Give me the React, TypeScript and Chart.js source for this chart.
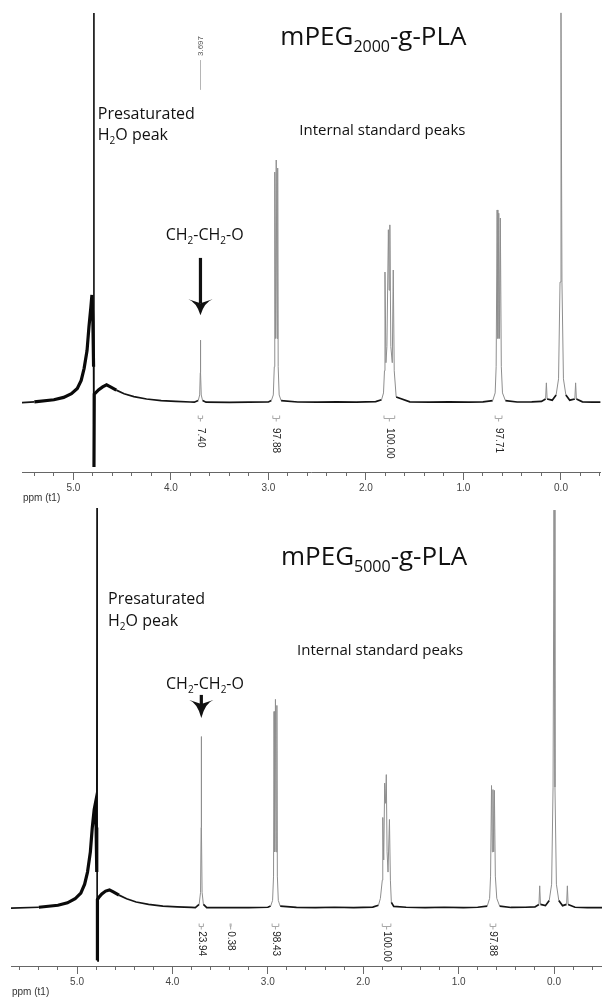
import { useEffect, useRef } from 'react';
import { Chart, registerables } from 'chart.js';

Chart.register(...registerables);

// ---------------- data: top spectrum (mPEG2000-g-PLA) ----------------
const topPpm = [
  5.53, 5.40, 5.20, 5.10, 5.02, 4.96, 4.92, 4.89, 4.86, 4.84, 4.82, 4.81, 4.80, 4.793, 4.790, 4.789, 4.786,
  4.77, 4.74, 4.70, 4.66, 4.62, 4.56, 4.48, 4.38, 4.25, 4.10, 3.95, 3.80,
  3.76, 3.72, 3.705, 3.699, 3.697, 3.695, 3.689, 3.675, 3.64,
  3.40, 3.20, 3.00,
  2.97, 2.95, 2.94, 2.935, 2.928, 2.92, 2.912, 2.905, 2.90, 2.89, 2.87,
  2.70, 2.50, 2.30, 2.10, 1.90,
  1.84, 1.82, 1.81, 1.805, 1.795, 1.785, 1.77, 1.763, 1.755, 1.745, 1.73, 1.72, 1.71, 1.69,
  1.55, 1.35, 1.15, 0.95, 0.80,
  0.70, 0.675, 0.665, 0.655, 0.647, 0.638, 0.63, 0.622, 0.612, 0.60, 0.57,
  0.45, 0.30, 0.20,
  0.158, 0.15, 0.142,
  0.09, 0.05, 0.025, 0.01, 0.0, -0.01, -0.025, -0.05, -0.09,
  -0.142, -0.15, -0.158,
  -0.22, -0.32, -0.41,
];
const topIntensity = [
  0.1, 0.3, 0.8, 1.4, 2.3, 3.6, 5.6, 8.6, 13, 19, 24, 26.8, 20, 9, 96.8, -15.9, 2.2,
  2.6, 3.3, 4.0, 4.5, 4.0, 3.2, 2.3, 1.6, 1.0, 0.6, 0.4, 0.25,
  0.2, 0.6, 2.0, 7.5, 15.6, 7.5, 2.0, 0.6, 0.2,
  0.15, 0.2, 0.25,
  0.6, 2.0, 9, 57.3, 16, 60.3, 16, 58.3, 9, 2.0, 0.6,
  0.25, 0.2, 0.3, 0.2, 0.35,
  0.8, 2.5, 8, 32.5, 10, 14, 43, 28, 44.2, 14, 10, 33, 8, 1.5,
  0.3, 0.2, 0.3, 0.2, 0.3,
  0.6, 2.5, 9, 47.9, 16, 47.1, 16, 45.9, 9, 2.5, 0.6,
  0.25, 0.3, 0.4,
  1.0, 5.0, 1.0,
  0.7, 2.0, 6, 30, 96.8, 30, 6, 2.0, 0.7,
  1.0, 5.0, 1.0,
  0.3, 0.2, 0.2,
];

// ---------------- data: bottom spectrum (mPEG5000-g-PLA) ----------------
const bottomPpm = [
  5.70, 5.40, 5.20, 5.10, 5.02, 4.96, 4.92, 4.89, 4.86, 4.84, 4.82, 4.81, 4.80, 4.793, 4.790, 4.789, 4.786,
  4.77, 4.74, 4.70, 4.66, 4.62, 4.56, 4.48, 4.38, 4.25, 4.10, 3.95, 3.80,
  3.76, 3.72, 3.705, 3.699, 3.697, 3.695, 3.689, 3.675, 3.64,
  3.40, 3.20, 3.00,
  2.97, 2.95, 2.94, 2.935, 2.928, 2.92, 2.912, 2.905, 2.90, 2.89, 2.87,
  2.70, 2.50, 2.30, 2.10, 1.90,
  1.84, 1.82, 1.80, 1.795, 1.785, 1.775, 1.765, 1.758, 1.75, 1.74, 1.725, 1.715, 1.705, 1.68,
  1.55, 1.35, 1.15, 0.95, 0.80,
  0.70, 0.675, 0.665, 0.655, 0.647, 0.64, 0.632, 0.625, 0.615, 0.60, 0.57,
  0.45, 0.30, 0.20,
  0.158, 0.15, 0.142,
  0.09, 0.05, 0.025, 0.01, 0.0, -0.01, -0.025, -0.05, -0.09,
  -0.132, -0.14, -0.148,
  -0.22, -0.35, -0.51,
];
const bottomIntensity = [
  0.1, 0.3, 0.8, 1.4, 2.4, 3.8, 6, 9, 14, 20, 24.5, 25.7, 20, 9, 99.0, -12.8, 2.2,
  2.8, 3.6, 4.3, 4.6, 4.1, 3.3, 2.4, 1.6, 1.0, 0.6, 0.4, 0.25,
  0.2, 1.0, 4, 20, 42.5, 20, 4, 1.0, 0.2,
  0.2, 0.2, 0.3,
  0.6, 2, 8, 48.7, 14, 51.7, 14, 50.2, 8, 2, 0.6,
  0.25, 0.2, 0.3, 0.2, 0.35,
  0.8, 2.5, 7, 22.5, 12, 31, 26, 33.1, 14, 9, 22, 7, 1.5, 0.5,
  0.3, 0.2, 0.3, 0.2, 0.3,
  0.6, 2.5, 8, 30.4, 14, 29.4, 14, 29.2, 8, 2.5, 0.6,
  0.25, 0.3, 0.4,
  1.0, 5.6, 1.0,
  0.7, 2.0, 6, 30, 98.5, 30, 6, 2.0, 0.7,
  1.0, 5.6, 1.0,
  0.3, 0.2, 0.2,
];

// ---------------- integrals ----------------
const topIntegralLabels = ['7.40', '97.88', '100.00', '97.71'];
const topIntegralFrom = [3.72, 2.955, 1.815, 0.675];
const topIntegralTo = [3.675, 2.885, 1.705, 0.605];

const bottomIntegralLabels = ['23.94', '0.38', '98.43', '100.00', '97.88'];
const bottomIntegralFrom = [3.72, 3.395, 2.955, 1.80, 0.67];
const bottomIntegralTo = [3.675, 3.385, 2.885, 1.71, 0.61];

// ---------------- tick labels ----------------
const majorTickValues = [5, 4, 3, 2, 1, 0];
const axisTitle = 'ppm (t1)';

// ---------------- annotations (text anchored in ppm / intensity units) ----------------
const topNotes = [
  { text: 'mPEG_{2000}-g-PLA', ppm: 2.878, level: 88.8, size: 26 },
  { text: 'Presaturated', ppm: 4.75, level: 70.5, size: 16 },
  { text: 'H_{2}O peak', ppm: 4.75, level: 65.3, size: 16 },
  { text: 'Internal standard peaks', ppm: 2.684, level: 66.5, size: 15 },
  { text: 'CH_{2}-CH_{2}-O', ppm: 4.054, level: 40.4, size: 16 },
];
const bottomNotes = [
  { text: 'mPEG_{5000}-g-PLA', ppm: 2.862, level: 84.9, size: 26 },
  { text: 'Presaturated', ppm: 4.675, level: 75.3, size: 16 },
  { text: 'H_{2}O peak', ppm: 4.675, level: 69.8, size: 16 },
  { text: 'Internal standard peaks', ppm: 2.694, level: 62.7, size: 15 },
  { text: 'CH_{2}-CH_{2}-O', ppm: 4.067, level: 54.3, size: 16 },
];
const topArrow = { ppm: 3.697, from: 36, headBase: 25, tip: 21.8 };
const bottomArrow = { ppm: 3.697, from: 52.8, headBase: 50.8, tip: 47.1 };
const topPeakLabel = { text: '3.697', ppm: 3.697, lineFrom: 77.7, lineTo: 85.1, textStart: 86.1 };

const NOTE_FONT = '"Open Sans", "Noto Sans", sans-serif';
const AXIS_FONT = '"Liberation Sans", Arial, sans-serif';

type Panel = {
  ppm: number[];
  intensity: number[];
  xMin: number;
  xMax: number;
  yMin: number;
  yMax: number;
  padLeft: number;
  notes: { text: string; ppm: number; level: number; size: number }[];
  arrow: { ppm: number; from: number; headBase: number; tip: number };
  integralLabels: string[];
  integralFrom: number[];
  integralTo: number[];
  bracketLevel: number;
  integralTextLevel: number;
  peakLabel?: { text: string; ppm: number; lineFrom: number; lineTo: number; textStart: number };
};

const topPanel: Panel = {
  ppm: topPpm,
  intensity: topIntensity,
  xMin: -0.404,
  xMax: 5.527,
  yMin: -17.12,
  yMax: 100,
  padLeft: 22,
  notes: topNotes,
  arrow: topArrow,
  integralLabels: topIntegralLabels,
  integralFrom: topIntegralFrom,
  integralTo: topIntegralTo,
  bracketLevel: -3.7,
  integralTextLevel: -6.2,
  peakLabel: topPeakLabel,
};

const bottomPanel: Panel = {
  ppm: bottomPpm,
  intensity: bottomIntensity,
  xMin: -0.503,
  xMax: 5.692,
  yMin: -14.22,
  yMax: 100,
  padLeft: 11,
  notes: bottomNotes,
  arrow: bottomArrow,
  integralLabels: bottomIntegralLabels,
  integralFrom: bottomIntegralFrom,
  integralTo: bottomIntegralTo,
  bracketLevel: -4.4,
  integralTextLevel: -5.6,
};

function isMajor(v: number) {
  return majorTickValues.some((m) => Math.abs(m - v) < 1e-6);
}

function drawRich(ctx: CanvasRenderingContext2D, text: string, x: number, y: number, size: number) {
  const parts = text.split(/(_\{[^}]*\})/).filter(Boolean);
  const subSize = Math.round(size * 0.62);
  let cx = x;
  for (const p of parts) {
    const isSub = p.startsWith('_{');
    const t = isSub ? p.slice(2, -1) : p;
    ctx.font = `${isSub ? subSize : size}px ${NOTE_FONT}`;
    ctx.fillText(t, cx, isSub ? y + size * 0.26 : y);
    cx += ctx.measureText(t).width;
  }
}

function makePlugin(panel: Panel) {
  return {
    id: 'nmrAnnotations',
    afterDraw(chart: any) {
      const ctx: CanvasRenderingContext2D = chart.ctx;
      const xs = chart.scales.x;
      const ys = chart.scales.y;
      const px = (v: number) => xs.getPixelForValue(v);
      const py = (v: number) => ys.getPixelForValue(v);
      ctx.save();

      // axis title, left aligned under the scale start
      ctx.fillStyle = '#333';
      ctx.font = `10px ${AXIS_FONT}`;
      ctx.textAlign = 'left';
      ctx.textBaseline = 'middle';
      ctx.fillText(axisTitle, xs.left + 1, chart.height - 6);

      // text notes
      ctx.fillStyle = '#111';
      ctx.textAlign = 'left';
      ctx.textBaseline = 'alphabetic';
      for (const n of panel.notes) drawRich(ctx, n.text, px(n.ppm), py(n.level), n.size);

      // arrow
      const a = panel.arrow;
      const ax = px(a.ppm);
      ctx.fillStyle = '#111';
      ctx.fillRect(ax - 1.6, py(a.from), 3.2, py(a.headBase) - py(a.from) + 1);
      ctx.beginPath();
      ctx.moveTo(ax - 12, py(a.headBase) - 3);
      ctx.quadraticCurveTo(ax - 4, py(a.headBase), ax, py(a.tip));
      ctx.quadraticCurveTo(ax + 4, py(a.headBase), ax + 12, py(a.headBase) - 3);
      ctx.lineTo(ax, py(a.headBase) + 1);
      ctx.closePath();
      ctx.fill();

      // integrals
      ctx.strokeStyle = '#a8a8a8';
      ctx.lineWidth = 1;
      const by = Math.round(py(panel.bracketLevel)) + 0.5;
      panel.integralLabels.forEach((label, i) => {
        const x1 = px(panel.integralFrom[i]);
        const x2 = px(panel.integralTo[i]);
        const cx = (x1 + x2) / 2;
        ctx.beginPath();
        ctx.moveTo(x1, by - 3);
        ctx.lineTo(x1, by);
        ctx.lineTo(x2, by);
        ctx.lineTo(x2, by - 3);
        ctx.moveTo(cx, by);
        ctx.lineTo(cx, by + 3);
        ctx.stroke();
        ctx.save();
        ctx.translate(cx, py(panel.integralTextLevel));
        ctx.rotate(Math.PI / 2);
        ctx.fillStyle = '#222';
        ctx.font = `10px ${AXIS_FONT}`;
        ctx.textAlign = 'left';
        ctx.textBaseline = 'middle';
        ctx.fillText(label, 0, 0);
        ctx.restore();
      });

      // peak picking label
      if (panel.peakLabel) {
        const pl = panel.peakLabel;
        const lx = Math.round(px(pl.ppm)) + 0.5;
        ctx.strokeStyle = '#b5b5b5';
        ctx.beginPath();
        ctx.moveTo(lx, py(pl.lineFrom));
        ctx.lineTo(lx, py(pl.lineTo));
        ctx.stroke();
        ctx.save();
        ctx.translate(lx, py(pl.textStart));
        ctx.rotate(-Math.PI / 2);
        ctx.fillStyle = '#555';
        ctx.font = `8px ${AXIS_FONT}`;
        ctx.textAlign = 'left';
        ctx.textBaseline = 'middle';
        ctx.fillText(pl.text, 0, 0);
        ctx.restore();
      }
      ctx.restore();
    },
  };
}

function inWater(c: any) {
  const m = (c.p0.parsed.x + c.p1.parsed.x) / 2;
  return m > 4.55 && m < 5.35;
}
function steep(c: any) {
  const dy = Math.abs(c.p1.y - c.p0.y);
  const dx = Math.abs(c.p1.x - c.p0.x);
  return dy > 4 && dy > dx * 2;
}

function makeChart(canvas: HTMLCanvasElement, panel: Panel) {
  const data = panel.ppm.map((x, i) => ({ x, y: panel.intensity[i] }));
  return new Chart(canvas, {
    type: 'line',
    data: {
      datasets: [
        {
          data,
          borderColor: '#141414',
          borderWidth: 1.6,
          pointRadius: 0,
          tension: 0,
          fill: false,
          segment: {
            borderColor: (c: any) => (inWater(c) ? '#0a0a0a' : steep(c) ? '#8e8e8e' : '#141414'),
            borderWidth: (c: any) => {
              if (inWater(c)) return Math.abs(c.p1.y - c.p0.y) > 100 ? 1.6 : 3.2;
              return steep(c) ? 1 : 1.7;
            },
          },
        } as any,
      ],
    },
    options: {
      animation: false,
      responsive: false,
      maintainAspectRatio: false,
      events: [],
      layout: { padding: { left: panel.padLeft, right: 0, top: 0, bottom: 8 } },
      plugins: { legend: { display: false }, tooltip: { enabled: false }, title: { display: false } },
      scales: {
        x: {
          type: 'linear',
          reverse: true,
          min: panel.xMin,
          max: panel.xMax,
          border: { display: true, color: '#666', width: 1 },
          grid: {
            drawOnChartArea: false,
            drawTicks: true,
            tickLength: 8,
            tickColor: '#6a6a6a',
            tickWidth: 1,
            tickBorderDash: (c: any) => (c && c.tick && isMajor(c.tick.value) ? [] : [3, 40]),
          },
          ticks: {
            stepSize: 0.2,
            includeBounds: false,
            autoSkip: false,
            maxRotation: 0,
            minRotation: 0,
            padding: 2,
            color: '#444',
            font: { family: AXIS_FONT, size: 10 },
            callback: (v: any) => (isMajor(Number(v)) ? Number(v).toFixed(1) : ''),
          },
          title: { display: false },
        },
        y: { type: 'linear', display: false, min: panel.yMin, max: panel.yMax },
      },
    } as any,
    plugins: [makePlugin(panel)],
  });
}

export default function App() {
  const topRef = useRef<HTMLCanvasElement>(null);
  const bottomRef = useRef<HTMLCanvasElement>(null);
  useEffect(() => {
    const charts = [makeChart(topRef.current!, topPanel), makeChart(bottomRef.current!, bottomPanel)];
    return () => charts.forEach((c) => c.destroy());
  }, []);
  return (
    <div style={{ position: 'absolute', left: 0, top: 0, width: 602, height: 1000, background: '#fff', overflow: 'hidden' }}>
      <canvas ref={topRef} width={602} height={504} style={{ position: 'absolute', left: 0, top: 0, width: 602, height: 504 }} />
      <canvas ref={bottomRef} width={602} height={494} style={{ position: 'absolute', left: 0, top: 504, width: 602, height: 494 }} />
    </div>
  );
}
